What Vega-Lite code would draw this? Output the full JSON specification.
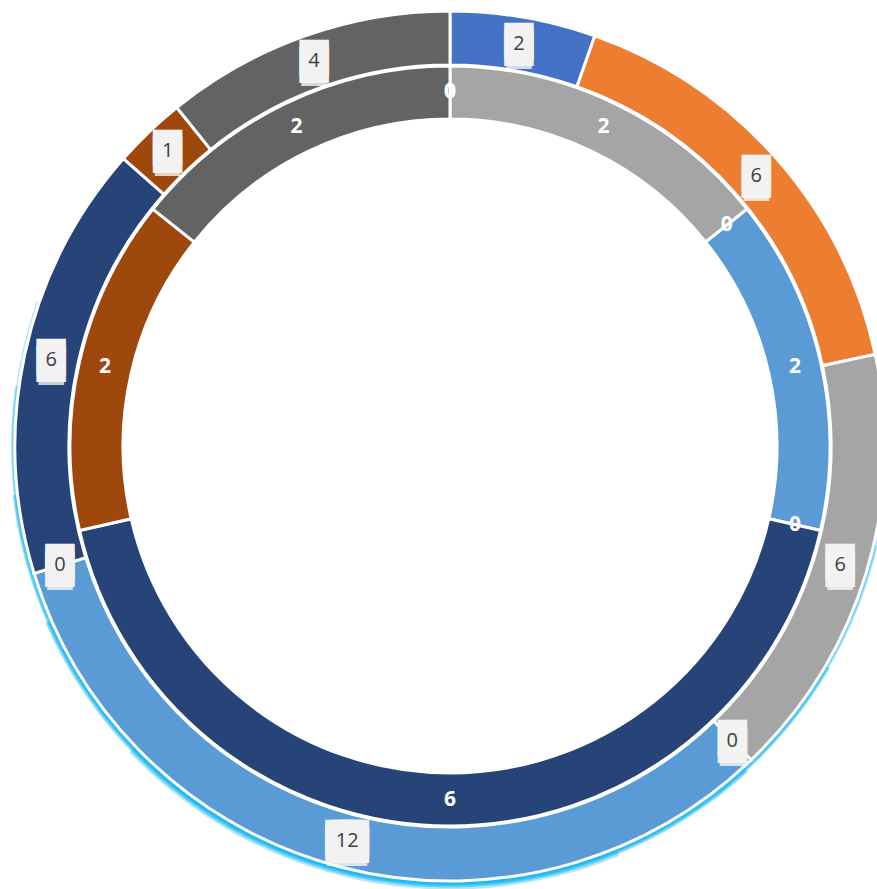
{
  "$schema": "https://vega.github.io/schema/vega-lite/v6.json",
  "width": 900,
  "height": 892,
  "autosize": {"type": "none"},
  "padding": 0,
  "background": "white",
  "view": {"stroke": null},
  "data": {
    "values": [
      {"ring": "outer", "cat": 1, "value": 2},
      {"ring": "outer", "cat": 2, "value": 6},
      {"ring": "outer", "cat": 3, "value": 6},
      {"ring": "outer", "cat": 4, "value": 0},
      {"ring": "outer", "cat": 5, "value": 12},
      {"ring": "outer", "cat": 6, "value": 0},
      {"ring": "outer", "cat": 7, "value": 6},
      {"ring": "outer", "cat": 8, "value": 1},
      {"ring": "outer", "cat": 9, "value": 4},
      {"ring": "inner", "cat": 1, "value": 0},
      {"ring": "inner", "cat": 2, "value": 0},
      {"ring": "inner", "cat": 3, "value": 2},
      {"ring": "inner", "cat": 4, "value": 0},
      {"ring": "inner", "cat": 5, "value": 2},
      {"ring": "inner", "cat": 6, "value": 0},
      {"ring": "inner", "cat": 7, "value": 6},
      {"ring": "inner", "cat": 8, "value": 2},
      {"ring": "inner", "cat": 9, "value": 2}
    ]
  },
  "layer": [
    {
      "data": {"values": [{"g": 1}]},
      "mark": {"type": "arc", "innerRadius": 434, "outerRadius": 438, "theta": 1.5, "theta2": 5.05, "color": "#00B0F0", "opacity": 0.3},
      "encoding": {}
    },
    {
      "data": {"values": [{"g": 1}]},
      "mark": {"type": "arc", "innerRadius": 434, "outerRadius": 439, "theta": 1.8, "theta2": 4.85, "color": "#00B0F0", "opacity": 0.35},
      "encoding": {}
    },
    {
      "data": {"values": [{"g": 1}]},
      "mark": {"type": "arc", "innerRadius": 434, "outerRadius": 440, "theta": 2.1, "theta2": 4.6, "color": "#00B0F0", "opacity": 0.4},
      "encoding": {}
    },
    {
      "data": {"values": [{"g": 1}]},
      "mark": {"type": "arc", "innerRadius": 434, "outerRadius": 441.5, "theta": 2.4, "theta2": 4.3, "color": "#00B0F0", "opacity": 0.4},
      "encoding": {}
    },
    {
      "data": {"values": [{"g": 1}]},
      "mark": {"type": "arc", "innerRadius": 436, "outerRadius": 443.5, "theta": 2.75, "theta2": 3.95, "color": "#00B0F0", "opacity": 0.3},
      "encoding": {}
    },
    {
      "transform": [{"filter": "datum.ring === 'outer'"}],
      "mark": {"type": "arc", "outerRadius": 435, "innerRadius": 381, "stroke": "white", "strokeWidth": 3},
      "encoding": {
        "theta": {"field": "value", "type": "quantitative", "stack": "normalize"},
        "order": {"field": "cat", "type": "quantitative"},
        "color": {
          "field": "cat", "type": "nominal", "legend": null,
          "scale": {"domain": [1, 2, 3, 4, 5, 6, 7, 8, 9], "range": ["#4472C4", "#ED7D31", "#A5A5A5", "#FFC000", "#5B9BD5", "#70AD47", "#264478", "#9E480E", "#636363"]}
        }
      }
    },
    {
      "transform": [{"filter": "datum.ring === 'inner'"}],
      "mark": {"type": "arc", "outerRadius": 380, "innerRadius": 327, "stroke": "white", "strokeWidth": 3},
      "encoding": {
        "theta": {"field": "value", "type": "quantitative", "stack": "normalize"},
        "order": {"field": "cat", "type": "quantitative"},
        "color": {"field": "cat", "type": "nominal", "legend": null}
      }
    },
    {
      "transform": [{"filter": "datum.ring === 'outer'"}],
      "mark": {"type": "text", "radius": 408, "font": "DejaVu Sans Mono", "fontSize": 12, "baseline": "middle", "align": "center", "fill": "white", "stroke": "white", "strokeWidth": 18, "strokeJoin": "miter", "opacity": 0.75, "dy": 9},
      "encoding": {
        "theta": {"field": "value", "type": "quantitative", "stack": "normalize"},
        "order": {"field": "cat", "type": "quantitative"},
        "detail": {"field": "cat", "type": "nominal"},
        "text": {"condition": {"test": "datum.value >= 10", "value": "███"}, "value": "█"}
      }
    },
    {
      "transform": [{"filter": "datum.ring === 'outer'"}],
      "mark": {"type": "text", "radius": 408, "font": "DejaVu Sans Mono", "fontSize": 12, "baseline": "middle", "align": "center", "fill": "#F2F2F2", "stroke": "#F2F2F2", "strokeWidth": 22, "strokeJoin": "miter", "dy": -3},
      "encoding": {
        "theta": {"field": "value", "type": "quantitative", "stack": "normalize"},
        "order": {"field": "cat", "type": "quantitative"},
        "detail": {"field": "cat", "type": "nominal"},
        "text": {"condition": {"test": "datum.value >= 10", "value": "███"}, "value": "█"}
      }
    },
    {
      "transform": [{"filter": "datum.ring === 'outer'"}],
      "mark": {"type": "text", "radius": 408, "font": "DejaVu Sans Mono", "fontSize": 12, "baseline": "middle", "align": "center", "fill": "#F2F2F2", "stroke": "#F2F2F2", "strokeWidth": 22, "strokeJoin": "miter", "dy": 4},
      "encoding": {
        "theta": {"field": "value", "type": "quantitative", "stack": "normalize"},
        "order": {"field": "cat", "type": "quantitative"},
        "detail": {"field": "cat", "type": "nominal"},
        "text": {"condition": {"test": "datum.value >= 10", "value": "███"}, "value": "█"}
      }
    },
    {
      "transform": [{"filter": "datum.ring === 'outer'"}],
      "mark": {"type": "text", "radius": 408, "font": "Open Sans", "fontSize": 20, "baseline": "middle", "align": "center", "fill": "#404040"},
      "encoding": {
        "theta": {"field": "value", "type": "quantitative", "stack": "normalize"},
        "order": {"field": "cat", "type": "quantitative"},
        "detail": {"field": "cat", "type": "nominal"},
        "text": {"field": "value", "type": "quantitative"}
      }
    },
    {
      "transform": [{"filter": "datum.ring === 'inner'"}],
      "mark": {"type": "text", "radius": 354, "font": "Open Sans", "fontSize": 21, "fontWeight": "bold", "baseline": "middle", "align": "center", "fill": "white"},
      "encoding": {
        "theta": {"field": "value", "type": "quantitative", "stack": "normalize"},
        "order": {"field": "cat", "type": "quantitative"},
        "detail": {"field": "cat", "type": "nominal"},
        "text": {"field": "value", "type": "quantitative"}
      }
    }
  ]
}
